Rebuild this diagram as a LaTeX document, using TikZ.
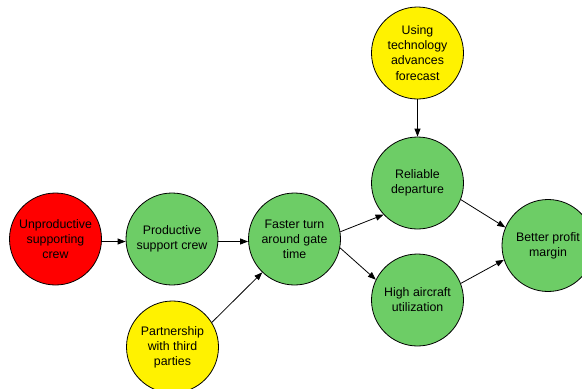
\documentclass[tikz,border=0pt]{standalone}
\usepackage{fontspec}
\setmainfont{Liberation Sans}
\usetikzlibrary{arrows.meta}
\definecolor{gfill}{RGB}{109,205,102}
\begin{document}
\begin{tikzpicture}[x=1bp,y=-1bp,
  bubble/.style={circle,draw=black,line width=0.8bp,minimum size=92bp,inner sep=0pt,align=center,
    font=\fontsize{12.4}{15.2}\selectfont},
  green/.style={bubble,fill=gfill},
  conn/.style={line width=0.8bp,-{Triangle[length=8bp,width=6bp]}}]
\useasboundingbox (0,0) rectangle (582,388);
\begin{scope}
\clip (0,0) rectangle (582,388);
\node[bubble,fill=red] (unp) at (55.5,239) {Unproductive\\supporting\\crew};
\node[green] (prod) at (172,239) {Productive\\support crew};
\node[green] (fast) at (294.5,239) {Faster turn\\around gate\\time};
\node[bubble,fill=yellow] (part) at (172.5,347) {Partnership\\with third\\parties};
\node[bubble,fill=yellow] (tech) at (417.5,53) {Using\\technology\\advances\\forecast};
\node[green] (rel) at (417.5,183) {Reliable\\departure};
\node[green] (high) at (417.5,300) {High aircraft\\utilization};
\node[green] (prof) at (548,245.5) {Better profit\\margin};
\end{scope}
\draw[conn] (unp.east |- 0,241.5) -- (prod.west |- 0,241.5);
\draw[conn] (prod.east |- 0,241.5) -- (fast.west |- 0,241.5);
\draw[conn] (part.32) -- (fast.226);
\draw[conn] (tech.south) -- (rel.north);
\draw[conn] (fast.9) -- (rel.223);
\draw[conn] (fast.-11) -- (high.154);
\draw[conn] (rel.-21) -- (prof.157);
\draw[conn] (high.21) -- (prof.198);
\end{tikzpicture}
\end{document}
